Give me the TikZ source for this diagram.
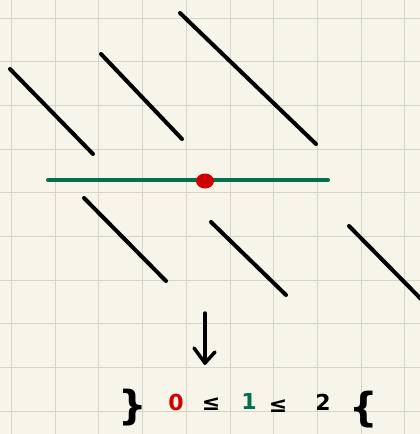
\documentclass[tikz,border=0pt]{standalone}
\usepackage{fontspec}
\usetikzlibrary{shapes.geometric}
\setmainfont{DejaVu Sans}
\definecolor{paper}{HTML}{F7F5E9}
\definecolor{gridc}{HTML}{D6D5C9}
\definecolor{pgreen}{HTML}{00704F}
\definecolor{pred}{HTML}{D00000}
\tikzset{
  stroke/.style={line width=4pt, line cap=round, black},
  axisline/.style={line width=4pt, line cap=round, pgreen},
  gridline/.style={line width=1pt, gridc},
  sym/.style={inner sep=0pt, font=\fontsize{22}{22}\selectfont\bfseries},
  brace/.style={inner sep=0pt, font=\fontsize{40}{40}\selectfont\bfseries},
}
\begin{document}
\begin{tikzpicture}[x=1pt,y=-1pt]
\useasboundingbox (0,0) rectangle (420,434);
\fill[paper] (0,0) rectangle (420,434);
\foreach \i in {0,...,9} {
  \draw[gridline] (11.5+43.7*\i,0) -- (11.5+43.7*\i,434);
  \draw[gridline] (0,18+43.7*\i) -- (420,18+43.7*\i);
}
% diagonal strokes
\coordinate (a1) at (10,69);  \coordinate (a2) at (93,154);
\coordinate (b1) at (101,54); \coordinate (b2) at (182,139);
\coordinate (c1) at (180,13); \coordinate (c2) at (316,144);
\coordinate (d1) at (84,198); \coordinate (d2) at (166,281);
\coordinate (e1) at (211,222);\coordinate (e2) at (286,295);
\coordinate (f1) at (349,226);\coordinate (f2) at (424,302);
\draw[stroke] (a1) -- (a2);
\draw[stroke] (b1) -- (b2);
\draw[stroke] (c1) -- (c2);
\draw[stroke] (d1) -- (d2);
\draw[stroke] (e1) -- (e2);
\draw[stroke] (f1) -- (f2);
% green line with red point
\coordinate (gl) at (48,180); \coordinate (gr) at (328,180);
\draw[axisline] (gl) -- (gr);
\node[ellipse, fill=pred, minimum width=18pt, minimum height=15pt, inner sep=0pt] (pt) at (205,181) {};
% arrow
\coordinate (as) at (205,313); \coordinate (at) at (205,363);
\coordinate (hl) at (194,348); \coordinate (hr) at (215,352);
\draw[line width=3.5pt, line cap=round, line join=round] (as) -- (at);
\draw[line width=3.5pt, line cap=round, line join=round] (hl) -- (at) -- (hr);
% bottom text
\node[brace] (lb) at (133,408) {\}};
\node[sym, text=pred] (n0) at (176,402) {0};
\node[sym] (le1) at (211,404) {≤};
\node[sym, text=pgreen] (n1) at (249,401) {1};
\node[sym] (le2) at (278,406) {≤};
\node[sym] (n2) at (323,402) {2};
\node[brace] (rb) at (364,410) {\{};
\end{tikzpicture}
\end{document}
